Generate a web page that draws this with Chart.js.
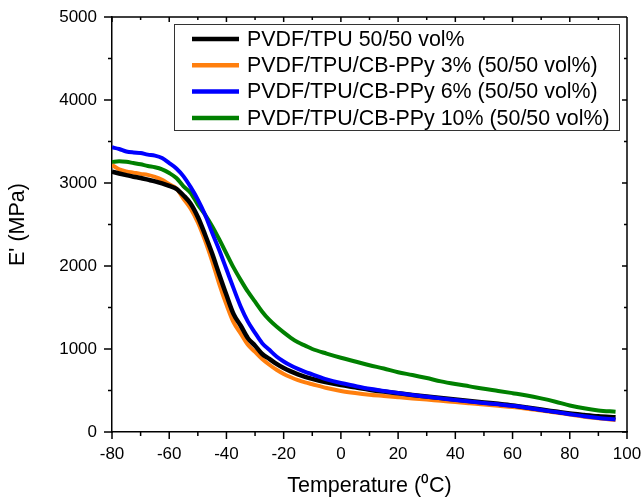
<!DOCTYPE html>
<html>
<head>
<meta charset="utf-8">
<title>E' vs Temperature</title>
<script src="https://cdn.jsdelivr.net/npm/chart.js@4.4.0/dist/chart.umd.min.js"></script>
<style>
  html, body { margin: 0; padding: 0; background: #fff; }
  #wrap { width: 644px; height: 501px; }
</style>
</head>
<body>
<div id="wrap"><canvas id="grafico"></canvas></div>
<script>
// temperaturas (°C)
const temperaturas = [-80, -77.5, -75, -72.5, -70, -67.5, -65, -62.5, -60, -57.5, -55, -52.5, -50, -47.5, -45, -42.5, -40, -37.5, -35, -32.5, -30, -27.5, -25, -22.5, -20, -17.5, -15, -12.5, -10, -5, 0, 5, 10, 15, 20, 25, 30, 35, 40, 45, 50, 55, 60, 65, 70, 75, 80, 85, 90, 96];

// E' (MPa) de cada amostra
const pvdfTpu = [3136, 3115, 3095, 3076, 3060, 3040, 3020, 2995, 2965, 2930, 2850, 2750, 2590, 2380, 2150, 1895, 1650, 1420, 1280, 1130, 1040, 940, 880, 820, 770, 730, 695, 665, 640, 598, 565, 538, 510, 487, 467, 447, 428, 410, 392, 374, 356, 339, 320, 296, 270, 246, 222, 205, 190, 178];
const cbPpy3 = [3217, 3165, 3140, 3125, 3110, 3098, 3075, 3040, 2985, 2935, 2810, 2690, 2526, 2310, 2060, 1783, 1535, 1320, 1185, 1050, 965, 880, 810, 750, 700, 660, 625, 598, 575, 530, 495, 470, 450, 435, 420, 405, 390, 375, 360, 345, 330, 315, 300, 280, 258, 235, 210, 185, 165, 145];
const cbPpy6 = [3430, 3410, 3380, 3368, 3362, 3342, 3330, 3300, 3240, 3175, 3080, 2950, 2800, 2620, 2400, 2190, 1960, 1730, 1510, 1330, 1195, 1070, 990, 910, 850, 800, 760, 725, 695, 635, 590, 555, 520, 495, 470, 445, 425, 405, 385, 367, 350, 333, 315, 292, 265, 240, 215, 190, 170, 150];
const cbPpy10 = [3253, 3262, 3255, 3240, 3225, 3205, 3190, 3165, 3120, 3060, 2960, 2880, 2740, 2620, 2480, 2320, 2150, 1980, 1830, 1690, 1570, 1450, 1350, 1270, 1200, 1135, 1080, 1040, 1000, 945, 895, 850, 805, 765, 720, 687, 650, 610, 578, 550, 520, 495, 468, 440, 405, 365, 320, 285, 260, 245];

const nomes = ['PVDF/TPU 50/50 vol%', 'PVDF/TPU/CB-PPy 3% (50/50 vol%)', 'PVDF/TPU/CB-PPy 6% (50/50 vol%)', 'PVDF/TPU/CB-PPy 10% (50/50 vol%)'];
const cores = ['#000000', '#ff7f0e', '#0000ff', '#008000'];
const espessuras = [4.5, 4, 4, 4];
const series = [pvdfTpu, cbPpy3, cbPpy6, cbPpy10];
// ordem de desenho (menor fica por cima)
const ordem = [1, 2, 0, 3];

const xTicks = [-80, -60, -40, -20, 0, 20, 40, 60, 80, 100];
const yTicks = [0, 1000, 2000, 3000, 4000, 5000];

const fonte = "'Liberation Sans', Arial, sans-serif";

function pontos(valores) {
  return temperaturas.map((t, i) => ({ x: t, y: valores[i] }));
}

// risquinhos dos eixos (maiores e menores) + moldura de cima/direita
const tracinhos = {
  id: 'tracinhos',
  afterDraw(chart) {
    const c = chart.ctx;
    const a = chart.chartArea;
    const sx = chart.scales.x, sy = chart.scales.y;
    c.save();
    c.strokeStyle = '#000';
    c.lineWidth = 1.5;
    c.beginPath();
    c.moveTo(a.left, a.top); c.lineTo(a.right, a.top);
    c.moveTo(a.right, a.top); c.lineTo(a.right, a.bottom);
    for (let v = -80; v <= 100; v += 10) {
      const px = sx.getPixelForValue(v);
      const maior = xTicks.includes(v);
      c.moveTo(px, a.bottom); c.lineTo(px, a.bottom + (maior ? 7 : 4));
      c.moveTo(px, a.top); c.lineTo(px, a.top + (maior ? 5 : 3));
    }
    for (let v = 0; v <= 5000; v += 500) {
      const py = sy.getPixelForValue(v);
      const maior = yTicks.includes(v);
      c.moveTo(a.left, py); c.lineTo(a.left - (maior ? 8 : 4), py);
      c.moveTo(a.right, py); c.lineTo(a.right - (maior ? 5 : 3), py);
    }
    c.stroke();
    c.restore();
  }
};

// legenda dentro da area do grafico, com caixa
const legendaCaixa = {
  id: 'legendaCaixa',
  afterDraw(chart) {
    const c = chart.ctx;
    const a = chart.chartArea;
    const x0 = a.left + 62, y0 = a.top + 7;
    const x1 = a.right - 8, y1 = a.top + 113;
    c.save();
    c.fillStyle = '#fff';
    c.fillRect(x0, y0, x1 - x0, y1 - y0);
    c.strokeStyle = '#333';
    c.lineWidth = 1;
    c.strokeRect(x0 + 0.5, y0 + 0.5, x1 - x0, y1 - y0);
    c.font = '21.4px ' + fonte;
    c.textBaseline = 'middle';
    c.textAlign = 'left';
    chart.data.datasets.forEach((ds, i) => {
      const y = y0 + 15 + i * 26.3;
      c.strokeStyle = ds.borderColor;
      c.lineWidth = 4.5;
      c.beginPath();
      c.moveTo(x0 + 18, y);
      c.lineTo(x0 + 65, y);
      c.stroke();
      c.fillStyle = '#000';
      c.fillText(ds.label, x0 + 73, y + 1);
    });
    c.restore();
  }
};

const ctx = document.getElementById('grafico').getContext('2d');

new Chart(ctx, {
  type: 'line',
  data: {
    datasets: series.map((s, i) => ({
      label: nomes[i],
      data: pontos(s),
      borderColor: cores[i],
      backgroundColor: cores[i],
      borderWidth: espessuras[i],
      pointRadius: 0,
      cubicInterpolationMode: 'monotone',
      fill: false,
      order: ordem[i]
    }))
  },
  options: {
    responsive: true,
    maintainAspectRatio: false,
    animation: false,
    layout: { padding: { top: 17, right: 17, left: 0, bottom: 0 } },
    plugins: {
      legend: { display: false },
      tooltip: { enabled: false }
    },
    scales: {
      x: {
        type: 'linear',
        min: -80,
        max: 100,
        afterBuildTicks: (s) => { s.ticks = xTicks.map(v => ({ value: v })); },
        afterFit: (s) => { s.height = 69; s.paddingLeft = 0; s.paddingRight = 0; },
        grid: { display: false, drawTicks: false },
        border: { display: true, color: '#000', width: 1.5 },
        ticks: { color: '#000', padding: 12, font: { family: fonte, size: 17 }, maxRotation: 0, callback: (v) => String(v) },
        title: {
          display: true,
          text: 'Temperature (\u2070C)',
          color: '#000',
          font: { family: fonte, size: 21.5 },
          padding: { top: 0, bottom: 2 }
        }
      },
      y: {
        min: 0,
        max: 5000,
        afterBuildTicks: (s) => { s.ticks = yTicks.map(v => ({ value: v })); },
        afterFit: (s) => { s.width = 112; s.paddingTop = 0; s.paddingBottom = 0; },
        grid: { display: false, drawTicks: false },
        border: { display: true, color: '#000', width: 1.5 },
        ticks: { color: '#000', padding: 15, font: { family: fonte, size: 17 }, callback: (v) => String(v) },
        title: {
          display: true,
          text: "E' (MPa)",
          color: '#000',
          font: { family: fonte, size: 21.5 },
          padding: { top: 5, bottom: 0 }
        }
      }
    }
  },
  plugins: [tracinhos, legendaCaixa]
});
</script>
</body>
</html>
